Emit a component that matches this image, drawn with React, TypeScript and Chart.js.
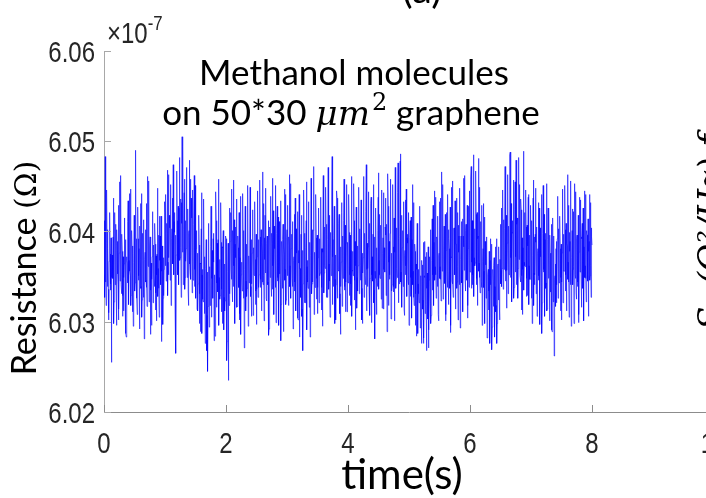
import React, { useEffect, useRef } from "react";
import { Chart, registerables } from "chart.js";

Chart.register(...registerables);

// Sampling of the recorded trace (s): three interleaved sample sets
const STEP_A_S = 0.02; // samplesA at t = 0, 0.02, ... 8.00
const STEP_B_S = 0.02; // samplesB at t = 0.01, 0.03, ... 7.99
const OFFSET_B_S = 0.01;
const STEP_C_S = 0.01; // samplesC at t = 0.005, 0.015, ... 7.995
const OFFSET_C_S = 0.005;

// Resistance values in units of 1e-7 Ω (axis multiplier shown as ×10^-7)
const samplesA = [
  6.0352, 6.0483, 6.0331, 6.0402, 6.0310, 6.0375, 6.0255, 6.0362, 6.0298, 6.0421, 6.0334, 6.0389, 6.0302, 6.0455, 6.0341, 6.0378, 6.0312, 6.0396, 6.0287, 6.0365, 6.0339, 6.0442, 6.0318, 6.0384, 6.0295,
  6.0371, 6.0490, 6.0326, 6.0392, 6.0348, 6.0431, 6.0305, 6.0368, 6.0281, 6.0402, 6.0338, 6.0461, 6.0322, 6.0379, 6.0296, 6.0414, 6.0352, 6.0386, 6.0301, 6.0448, 6.0337, 6.0395, 6.0278, 6.0372, 6.0329,
  6.0421, 6.0345, 6.0468, 6.0352, 6.0404, 6.0318, 6.0437, 6.0361, 6.0399, 6.0265, 6.0412, 6.0358, 6.0473, 6.0382, 6.0505, 6.0341, 6.0458, 6.0367, 6.0426, 6.0333, 6.0479, 6.0372, 6.0415, 6.0346, 6.0462,
  6.0338, 6.0401, 6.0312, 6.0385, 6.0289, 6.0443, 6.0325, 6.0371, 6.0276, 6.0352, 6.0245, 6.0394, 6.0318, 6.0427, 6.0331, 6.0366, 6.0284, 6.0412, 6.0347, 6.0458, 6.0325, 6.0388, 6.0298, 6.0356, 6.0312,
  6.0392, 6.0278, 6.0235, 6.0364, 6.0421, 6.0338, 6.0457, 6.0349, 6.0405, 6.0316, 6.0382, 6.0302, 6.0439, 6.0355, 6.0398, 6.0271, 6.0376, 6.0328, 6.0451, 6.0343, 6.0387, 6.0306, 6.0424, 6.0352, 6.0369,
  6.0297, 6.0445, 6.0338, 6.0394, 6.0312, 6.0466, 6.0351, 6.0418, 6.0326, 6.0378, 6.0285, 6.0405, 6.0342, 6.0459, 6.0331, 6.0386, 6.0299, 6.0428, 6.0355, 6.0397, 6.0279, 6.0371, 6.0336, 6.0447, 6.0319,
  6.0402, 6.0341, 6.0463, 6.0328, 6.0385, 6.0292, 6.0419, 6.0347, 6.0376, 6.0304, 6.0441, 6.0335, 6.0362, 6.0268, 6.0398, 6.0321, 6.0455, 6.0344, 6.0389, 6.0283, 6.0411, 6.0356, 6.0472, 6.0338, 6.0393,
  6.0309, 6.0426, 6.0351, 6.0381, 6.0295, 6.0448, 6.0362, 6.0408, 6.0327, 6.0467, 6.0345, 6.0386, 6.0483, 6.0339, 6.0415, 6.0302, 6.0437, 6.0358, 6.0392, 6.0286, 6.0421, 6.0348, 6.0375, 6.0311, 6.0452,
  6.0343, 6.0399, 6.0318, 6.0461, 6.0356, 6.0412, 6.0291, 6.0385, 6.0334, 6.0449, 6.0362, 6.0403, 6.0298, 6.0426, 6.0351, 6.0474, 6.0339, 6.0391, 6.0307, 6.0438, 6.0366, 6.0418, 6.0281, 6.0382, 6.0344,
  6.0465, 6.0352, 6.0407, 6.0315, 6.0443, 6.0361, 6.0396, 6.0289, 6.0428, 6.0347, 6.0458, 6.0334, 6.0383, 6.0301, 6.0417, 6.0359, 6.0476, 6.0342, 6.0486, 6.0366, 6.0401, 6.0313, 6.0435, 6.0349, 6.0387,
  6.0296, 6.0412, 6.0338, 6.0452, 6.0327, 6.0378, 6.0284, 6.0395, 6.0331, 6.0428, 6.0305, 6.0363, 6.0276, 6.0389, 6.0319, 6.0354, 6.0271, 6.0372, 6.0298, 6.0414, 6.0336, 6.0445, 6.0352, 6.0391, 6.0308,
  6.0433, 6.0347, 6.0466, 6.0325, 6.0392, 6.0301, 6.0421, 6.0356, 6.0381, 6.0288, 6.0449, 6.0342, 6.0404, 6.0319, 6.0437, 6.0361, 6.0395, 6.0293, 6.0411, 6.0338, 6.0459, 6.0346, 6.0377, 6.0304, 6.0428,
  6.0355, 6.0472, 6.0341, 6.0485, 6.0362, 6.0419, 6.0318, 6.0481, 6.0349, 6.0402, 6.0296, 6.0431, 6.0337, 6.0375, 6.0282, 6.0358, 6.0311, 6.0392, 6.0269, 6.0345, 6.0301, 6.0383, 6.0276, 6.0364, 6.0322,
  6.0408, 6.0339, 6.0446, 6.0358, 6.0421, 6.0315, 6.0463, 6.0352, 6.0488, 6.0367, 6.0412, 6.0326, 6.0455, 6.0343, 6.0396, 6.0482, 6.0351, 6.0424, 6.0308, 6.0489, 6.0362, 6.0405, 6.0329, 6.0441, 6.0347,
  6.0392, 6.0298, 6.0457, 6.0341, 6.0388, 6.0306, 6.0432, 6.0355, 6.0379, 6.0287, 6.0451, 6.0336, 6.0398, 6.0312, 6.0426, 6.0348, 6.0371, 6.0291, 6.0415, 6.0262, 6.0364, 6.0321, 6.0439, 6.0343, 6.0381,
  6.0302, 6.0447, 6.0356, 6.0402, 6.0318, 6.0463, 6.0344, 6.0389, 6.0295, 6.0425, 6.0361, 6.0453, 6.0332, 6.0386, 6.0299, 6.0438, 6.0352, 6.0409, 6.0315, 6.0445, 6.0348, 6.0396, 6.0306, 6.0441, 6.0362,
  6.0385,
];

const samplesB = [
  6.0398, 6.0344, 6.0387, 6.0336, 6.0371, 6.0342, 6.0349, 6.0394, 6.0357, 6.0368, 6.0402, 6.0341, 6.0376, 6.0358, 6.0391, 6.0329, 6.0364, 6.0347, 6.0372, 6.0411, 6.0368, 6.0351, 6.0389, 6.0337, 6.0366,
  6.0343, 6.0362, 6.0397, 6.0351, 6.0406, 6.0339, 6.0388, 6.0327, 6.0369, 6.0346, 6.0393, 6.0361, 6.0384, 6.0335, 6.0372, 6.0344, 6.0408, 6.0332, 6.0375, 6.0359, 6.0417, 6.0341, 6.0356, 6.0326, 6.0378,
  6.0372, 6.0409, 6.0366, 6.0418, 6.0357, 6.0392, 6.0364, 6.0411, 6.0342, 6.0378, 6.0352, 6.0426, 6.0371, 6.0432, 6.0388, 6.0402, 6.0349, 6.0414, 6.0361, 6.0398, 6.0354, 6.0437, 6.0369, 6.0403, 6.0358,
  6.0381, 6.0346, 6.0373, 6.0331, 6.0364, 6.0352, 6.0396, 6.0318, 6.0359, 6.0307, 6.0362, 6.0339, 6.0383, 6.0348, 6.0392, 6.0322, 6.0367, 6.0343, 6.0391, 6.0349, 6.0374, 6.0336, 6.0382, 6.0327, 6.0357,
  6.0331, 6.0356, 6.0318, 6.0389, 6.0347, 6.0401, 6.0362, 6.0386, 6.0341, 6.0379, 6.0338, 6.0371, 6.0352, 6.0412, 6.0334, 6.0358, 6.0345, 6.0397, 6.0366, 6.0384, 6.0339, 6.0376, 6.0348, 6.0406, 6.0334,
  6.0372, 6.0356, 6.0409, 6.0347, 6.0388, 6.0341, 6.0393, 6.0354, 6.0387, 6.0344, 6.0368, 6.0351, 6.0398, 6.0362, 6.0406, 6.0338, 6.0374, 6.0349, 6.0411, 6.0341, 6.0363, 6.0391, 6.0384, 6.0358, 6.0372,
  6.0356, 6.0394, 6.0362, 6.0381, 6.0339, 6.0368, 6.0344, 6.0403, 6.0328, 6.0379, 6.0359, 6.0397, 6.0314, 6.0352, 6.0345, 6.0382, 6.0361, 6.0408, 6.0337, 6.0373, 6.0342, 6.0401, 6.0363, 6.0386, 6.0348,
  6.0371, 6.0363, 6.0402, 6.0338, 6.0377, 6.0354, 6.0416, 6.0342, 6.0391, 6.0364, 6.0399, 6.0351, 6.0372, 6.0396, 6.0347, 6.0384, 6.0352, 6.0409, 6.0331, 6.0366, 6.0374, 6.0412, 6.0339, 6.0387, 6.0368,
  6.0388, 6.0352, 6.0379, 6.0357, 6.0404, 6.0346, 6.0362, 6.0349, 6.0393, 6.0367, 6.0386, 6.0337, 6.0371, 6.0364, 6.0412, 6.0358, 6.0383, 6.0345, 6.0376, 6.0352, 6.0397, 6.0335, 6.0348, 6.0359, 6.0401,
  6.0368, 6.0389, 6.0344, 6.0376, 6.0358, 6.0405, 6.0341, 6.0372, 6.0366, 6.0398, 6.0352, 6.0384, 6.0339, 6.0377, 6.0348, 6.0411, 6.0363, 6.0394, 6.0355, 6.0382, 6.0347, 6.0373, 6.0362, 6.0393, 6.0341,
  6.0364, 6.0349, 6.0391, 6.0356, 6.0372, 6.0331, 6.0358, 6.0342, 6.0384, 6.0339, 6.0368, 6.0324, 6.0351, 6.0335, 6.0377, 6.0303, 6.0346, 6.0328, 6.0362, 6.0352, 6.0388, 6.0361, 6.0378, 6.0339, 6.0373,
  6.0361, 6.0398, 6.0359, 6.0374, 6.0343, 6.0379, 6.0338, 6.0402, 6.0337, 6.0372, 6.0364, 6.0391, 6.0352, 6.0386, 6.0344, 6.0407, 6.0341, 6.0369, 6.0357, 6.0395, 6.0372, 6.0401, 6.0346, 6.0381, 6.0338,
  6.0403, 6.0366, 6.0412, 6.0371, 6.0394, 6.0348, 6.0392, 6.0365, 6.0411, 6.0338, 6.0367, 6.0356, 6.0389, 6.0331, 6.0346, 6.0334, 6.0368, 6.0324, 6.0341, 6.0362, 6.0339, 6.0318, 6.0347, 6.0331, 6.0369,
  6.0357, 6.0392, 6.0368, 6.0403, 6.0356, 6.0387, 6.0364, 6.0417, 6.0371, 6.0399, 6.0354, 6.0386, 6.0372, 6.0408, 6.0359, 6.0376, 6.0393, 6.0351, 6.0382, 6.0366, 6.0397, 6.0348, 6.0384, 6.0362, 6.0409,
  6.0346, 6.0373, 6.0354, 6.0397, 6.0342, 6.0376, 6.0351, 6.0404, 6.0336, 6.0382, 6.0358, 6.0391, 6.0343, 6.0374, 6.0359, 6.0396, 6.0332, 6.0368, 6.0339, 6.0347, 6.0381, 6.0392, 6.0367, 6.0398, 6.0349,
  6.0376, 6.0361, 6.0408, 6.0352, 6.0387, 6.0366, 6.0399, 6.0341, 6.0371, 6.0358, 6.0407, 6.0348, 6.0392, 6.0344, 6.0377, 6.0369, 6.0394, 6.0337, 6.0383, 6.0362, 6.0401, 6.0345, 6.0378, 6.0351, 6.0404,
];

const samplesC = [
  6.0412, 6.0327, 6.0395, 6.0318, 6.0446, 6.0339, 6.0381, 6.0302, 6.0367, 6.0421, 6.0335, 6.0393, 6.0289, 6.0374, 6.0348, 6.0437, 6.0322, 6.0386, 6.0341, 6.0408, 6.0296, 6.0379, 6.0353, 6.0429, 6.0314, 6.0388, 6.0345, 6.0462, 6.0331, 6.0397, 6.0306, 6.0372, 6.0349, 6.0415, 6.0325, 6.0391, 6.0283, 6.0368, 6.0343, 6.0434, 6.0319, 6.0383, 6.0356, 6.0447, 6.0329, 6.0401, 6.0311, 6.0376, 6.0342, 6.0418,
  6.0334, 6.0453, 6.0351, 6.0392, 6.0308, 6.0427, 6.0346, 6.0381, 6.0292, 6.0369, 6.0337, 6.0442, 6.0324, 6.0398, 6.0355, 6.0413, 6.0301, 6.0377, 6.0344, 6.0431, 6.0317, 6.0389, 6.0362, 6.0456, 6.0338, 6.0394, 6.0286, 6.0365, 6.0347, 6.0422, 6.0321, 6.0385, 6.0339, 6.0409, 6.0313, 6.0373, 6.0352, 6.0438, 6.0328, 6.0396, 6.0305, 6.0368, 6.0343, 6.0417, 6.0336, 6.0384, 6.0297, 6.0371, 6.0358, 6.0433,
  6.0362, 6.0441, 6.0357, 6.0398, 6.0329, 6.0463, 6.0371, 6.0417, 6.0346, 6.0452, 6.0338, 6.0403, 6.0366, 6.0474, 6.0352, 6.0421, 6.0312, 6.0396, 6.0374, 6.0467, 6.0359, 6.0428, 6.0341, 6.0482, 6.0368, 6.0436, 6.0327, 6.0409, 6.0377, 6.0494, 6.0355, 6.0443, 6.0336, 6.0412, 6.0381, 6.0471, 6.0349, 6.0425, 6.0318, 6.0401, 6.0364, 6.0458, 6.0347, 6.0419, 6.0332, 6.0446, 6.0372, 6.0408, 6.0339, 6.0451,
  6.0326, 6.0397, 6.0314, 6.0376, 6.0342, 6.0418, 6.0298, 6.0365, 6.0331, 6.0403, 6.0287, 6.0358, 6.0322, 6.0436, 6.0309, 6.0372, 6.0338, 6.0391, 6.0268, 6.0355, 6.0317, 6.0409, 6.0294, 6.0361, 6.0334, 6.0428, 6.0305, 6.0379, 6.0326, 6.0398, 6.0279, 6.0352, 6.0341, 6.0444, 6.0316, 6.0387, 6.0333, 6.0414, 6.0296, 6.0369, 6.0329, 6.0432, 6.0311, 6.0383, 6.0345, 6.0401, 6.0291, 6.0364, 6.0323, 6.0395,
  6.0304, 6.0257, 6.0318, 6.0387, 6.0345, 6.0426, 6.0331, 6.0392, 6.0358, 6.0447, 6.0322, 6.0384, 6.0339, 6.0413, 6.0298, 6.0371, 6.0352, 6.0436, 6.0317, 6.0395, 6.0343, 6.0421, 6.0309, 6.0378, 6.0286, 6.0366, 6.0334, 6.0442, 6.0326, 6.0401, 6.0348, 6.0428, 6.0312, 6.0386, 6.0337, 6.0417, 6.0295, 6.0373, 6.0356, 6.0449, 6.0328, 6.0391, 6.0342, 6.0411, 6.0307, 6.0382, 6.0351, 6.0433, 6.0319, 6.0397,
  6.0336, 6.0418, 6.0327, 6.0391, 6.0352, 6.0457, 6.0338, 6.0402, 6.0315, 6.0376, 6.0344, 6.0431, 6.0301, 6.0369, 6.0357, 6.0448, 6.0323, 6.0395, 6.0341, 6.0412, 6.0292, 6.0374, 6.0349, 6.0439, 6.0328, 6.0387, 6.0336, 6.0423, 6.0308, 6.0381, 6.0362, 6.0451, 6.0331, 6.0398, 6.0345, 6.0416, 6.0296, 6.0368, 6.0353, 6.0434, 6.0319, 6.0389, 6.0337, 6.0408, 6.0289, 6.0375, 6.0346, 6.0441, 6.0324, 6.0393,
  6.0351, 6.0429, 6.0318, 6.0384, 6.0339, 6.0453, 6.0326, 6.0397, 6.0348, 6.0411, 6.0297, 6.0372, 6.0334, 6.0437, 6.0312, 6.0386, 6.0345, 6.0422, 6.0302, 6.0365, 6.0283, 6.0359, 6.0327, 6.0418, 6.0306, 6.0379, 6.0342, 6.0446, 6.0321, 6.0393, 6.0355, 6.0412, 6.0291, 6.0368, 6.0337, 6.0433, 6.0316, 6.0388, 6.0349, 6.0459, 6.0331, 6.0402, 6.0344, 6.0425, 6.0308, 6.0377, 6.0358, 6.0441, 6.0325, 6.0396,
  6.0338, 6.0414, 6.0321, 6.0392, 6.0354, 6.0438, 6.0313, 6.0381, 6.0346, 6.0462, 6.0332, 6.0405, 6.0359, 6.0449, 6.0327, 6.0397, 6.0343, 6.0471, 6.0336, 6.0418, 6.0305, 6.0384, 6.0351, 6.0436, 6.0319, 6.0391, 6.0347, 6.0428, 6.0298, 6.0374, 6.0341, 6.0445, 6.0326, 6.0402, 6.0356, 6.0419, 6.0309, 6.0383, 6.0339, 6.0432, 6.0317, 6.0395, 6.0352, 6.0458, 6.0335, 6.0407, 6.0344, 6.0424, 6.0311, 6.0388,
  6.0357, 6.0441, 6.0329, 6.0396, 6.0342, 6.0417, 6.0306, 6.0378, 6.0351, 6.0453, 6.0324, 6.0389, 6.0338, 6.0427, 6.0315, 6.0384, 6.0362, 6.0448, 6.0331, 6.0403, 6.0346, 6.0435, 6.0302, 6.0376, 6.0354, 6.0461, 6.0327, 6.0398, 6.0341, 6.0422, 6.0312, 6.0387, 6.0359, 6.0444, 6.0333, 6.0409, 6.0348, 6.0431, 6.0299, 6.0372, 6.0345, 6.0452, 6.0321, 6.0394, 6.0356, 6.0426, 6.0308, 6.0381, 6.0339, 6.0438,
  6.0336, 6.0419, 6.0348, 6.0401, 6.0325, 6.0446, 6.0342, 6.0393, 6.0314, 6.0382, 6.0355, 6.0437, 6.0329, 6.0408, 6.0346, 6.0464, 6.0318, 6.0389, 6.0352, 6.0425, 6.0303, 6.0376, 6.0341, 6.0452, 6.0333, 6.0415, 6.0358, 6.0471, 6.0337, 6.0404, 6.0349, 6.0443, 6.0321, 6.0392, 6.0361, 6.0478, 6.0344, 6.0418, 6.0316, 6.0386, 6.0339, 6.0433, 6.0307, 6.0379, 6.0352, 6.0447, 6.0328, 6.0397, 6.0345, 6.0421,
  6.0312, 6.0393, 6.0328, 6.0416, 6.0304, 6.0377, 6.0341, 6.0432, 6.0318, 6.0386, 6.0296, 6.0364, 6.0332, 6.0409, 6.0287, 6.0358, 6.0321, 6.0397, 6.0293, 6.0351, 6.0276, 6.0345, 6.0314, 6.0388, 6.0282, 6.0349, 6.0309, 6.0372, 6.0268, 6.0337, 6.0305, 6.0383, 6.0291, 6.0356, 6.0322, 6.0402, 6.0307, 6.0368, 6.0335, 6.0429, 6.0318, 6.0391, 6.0346, 6.0438, 6.0326, 6.0394, 6.0339, 6.0417, 6.0301, 6.0376,
  6.0348, 6.0437, 6.0323, 6.0398, 6.0356, 6.0452, 6.0331, 6.0406, 6.0342, 6.0419, 6.0308, 6.0381, 6.0353, 6.0441, 6.0319, 6.0392, 6.0338, 6.0427, 6.0296, 6.0371, 6.0345, 6.0456, 6.0327, 6.0403, 6.0359, 6.0434, 6.0314, 6.0386, 6.0337, 6.0421, 6.0302, 6.0377, 6.0351, 6.0448, 6.0325, 6.0395, 6.0343, 6.0414, 6.0311, 6.0383, 6.0357, 6.0462, 6.0334, 6.0408, 6.0346, 6.0429, 6.0318, 6.0391, 6.0339, 6.0445,
  6.0361, 6.0458, 6.0337, 6.0412, 6.0352, 6.0476, 6.0328, 6.0403, 6.0365, 6.0467, 6.0341, 6.0421, 6.0319, 6.0395, 6.0356, 6.0449, 6.0332, 6.0408, 6.0345, 6.0429, 6.0306, 6.0381, 6.0338, 6.0416, 6.0298, 6.0363, 6.0326, 6.0394, 6.0287, 6.0352, 6.0313, 6.0378, 6.0276, 6.0341, 6.0305, 6.0386, 6.0294, 6.0358, 6.0317, 6.0371, 6.0283, 6.0349, 6.0311, 6.0392, 6.0298, 6.0362, 6.0324, 6.0383, 6.0302, 6.0369,
  6.0342, 6.0426, 6.0359, 6.0441, 6.0336, 6.0413, 6.0368, 6.0472, 6.0345, 6.0418, 6.0357, 6.0463, 6.0331, 6.0406, 6.0372, 6.0485, 6.0349, 6.0431, 6.0322, 6.0398, 6.0364, 6.0457, 6.0338, 6.0424, 6.0355, 6.0479, 6.0341, 6.0415, 6.0326, 6.0402, 6.0369, 6.0452, 6.0344, 6.0436, 6.0313, 6.0393, 6.0358, 6.0468, 6.0335, 6.0421, 6.0361, 6.0446, 6.0328, 6.0407, 6.0352, 6.0438, 6.0319, 6.0396, 6.0347, 6.0429,
  6.0326, 6.0412, 6.0343, 6.0437, 6.0318, 6.0394, 6.0352, 6.0448, 6.0331, 6.0405, 6.0309, 6.0381, 6.0346, 6.0426, 6.0297, 6.0372, 6.0339, 6.0441, 6.0321, 6.0398, 6.0355, 6.0419, 6.0306, 6.0384, 6.0337, 6.0453, 6.0314, 6.0391, 6.0348, 6.0424, 6.0301, 6.0376, 6.0333, 6.0408, 6.0289, 6.0365, 6.0322, 6.0395, 6.0278, 6.0351, 6.0317, 6.0389, 6.0341, 6.0432, 6.0326, 6.0403, 6.0354, 6.0417, 6.0312, 6.0386,
  6.0344, 6.0438, 6.0321, 6.0397, 6.0356, 6.0451, 6.0334, 6.0409, 6.0312, 6.0384, 6.0347, 6.0429, 6.0305, 6.0378, 6.0358, 6.0456, 6.0329, 6.0401, 6.0341, 6.0422, 6.0298, 6.0373, 6.0352, 6.0444, 6.0325, 6.0396, 6.0339, 6.0418, 6.0308, 6.0387, 6.0355, 6.0435, 6.0316, 6.0392, 6.0343, 6.0426, 6.0301, 6.0379, 6.0349, 6.0441, 6.0322, 6.0398, 6.0357, 6.0414, 6.0311, 6.0389, 6.0346, 6.0432, 6.0327, 6.0394,
];

const xTickValues = [0, 2, 4, 6, 8, 10];
const xTickLabels = ["0", "2", "4", "6", "8", "10"];
const yTickValues = [6.02, 6.03, 6.04, 6.05, 6.06];
const yTickLabels = ["6.02", "6.03", "6.04", "6.05", "6.06"];

const X_MIN = 0;
const X_MAX = 10;
const Y_MIN = 6.02;
const Y_MAX = 6.06;

const xTitle = "time(s)";
const yTitleText = "Resistance ";
const yTitleUnit = "(Ω)";
const noteLine1 = "Methanol molecules";
const noteLine2a = "on 50*30 ";
const noteLine2Math = "μm";
const noteLine2Sup = "2";
const noteLine2b = " graphene";
const exponentBase = "×10";
const exponentPower = "-7";
const panelLabel = "(a)";
const neighbourLabel = "S  (Ω²/Hz)·f";

const TICK_FONT = "'Liberation Sans', Arial, sans-serif";
const TICK_SQUEEZE = 0.8;
const TEXT_FONT = "Lato, 'Open Sans', sans-serif";
const MATH_FONT = "'DejaVu Serif', 'Liberation Serif', serif";

const CANVAS_W = 740;
const CANVAS_H = 498;

function squeezedText(
  ctx: CanvasRenderingContext2D,
  text: string,
  x: number,
  y: number,
  align: "left" | "center" | "right"
) {
  ctx.save();
  ctx.translate(x, y);
  ctx.scale(TICK_SQUEEZE, 1);
  ctx.textAlign = align;
  ctx.fillText(text, 0, 0);
  ctx.restore();
}

const annotationPlugin = {
  id: "annotations",
  afterDraw(chart: any) {
    const ctx: CanvasRenderingContext2D = chart.ctx;
    const area = chart.chartArea;
    const xs = chart.scales.x;
    const ys = chart.scales.y;
    ctx.save();

    // inward tick marks (MATLAB style)
    ctx.lineWidth = 1;
    ctx.strokeStyle = "#8c8c8c";
    xs.ticks.forEach((t: any) => {
      const px = Math.round(xs.getPixelForValue(t.value)) + 0.5;
      ctx.beginPath();
      ctx.moveTo(px, area.bottom);
      ctx.lineTo(px, area.bottom - 7);
      ctx.stroke();
    });
    ctx.strokeStyle = "#a8a8a8";
    ys.ticks.forEach((t: any) => {
      const py = Math.round(ys.getPixelForValue(t.value)) + 0.5;
      ctx.beginPath();
      ctx.moveTo(area.left, py);
      ctx.lineTo(area.left + 7, py);
      ctx.stroke();
    });

    // tick labels (condensed Helvetica-like)
    ctx.fillStyle = "#262626";
    ctx.textBaseline = "alphabetic";
    ctx.font = `30px ${TICK_FONT}`;
    xs.ticks.forEach((t: any) => {
      const idx = xTickValues.indexOf(t.value);
      if (idx < 0) return;
      squeezedText(ctx, xTickLabels[idx], xs.getPixelForValue(t.value), area.bottom + 41, "center");
    });
    ys.ticks.forEach((t: any) => {
      const idx = yTickValues.findIndex((v) => Math.abs(v - t.value) < 1e-9);
      if (idx < 0) return;
      squeezedText(ctx, yTickLabels[idx], area.left - 9, ys.getPixelForValue(t.value) + 11, "right");
    });

    // exponent ×10^-7
    ctx.font = `30px ${TICK_FONT}`;
    const ex = area.left + 3;
    squeezedText(ctx, exponentBase, ex, 43, "left");
    const wb = ctx.measureText(exponentBase).width * TICK_SQUEEZE;
    ctx.font = `21px ${TICK_FONT}`;
    squeezedText(ctx, exponentPower, ex + wb, 30, "left");

    // annotation text
    ctx.fillStyle = "#000";
    ctx.font = `35px ${TEXT_FONT}`;
    ctx.textAlign = "center";
    ctx.fillText(noteLine1, 354, 85);

    ctx.textAlign = "left";
    ctx.font = `35px ${TEXT_FONT}`;
    const wa = ctx.measureText(noteLine2a).width;
    const wbb = ctx.measureText(noteLine2b).width;
    ctx.font = `italic 34px ${MATH_FONT}`;
    const wm = ctx.measureText(noteLine2Math).width;
    ctx.font = `24px ${MATH_FONT}`;
    const ws = ctx.measureText(noteLine2Sup).width;
    const total = wa + wm + ws + 2 + wbb;
    let cx = 351 - total / 2;
    const by = 125;
    ctx.font = `35px ${TEXT_FONT}`;
    ctx.fillText(noteLine2a, cx, by);
    cx += wa;
    ctx.font = `italic 34px ${MATH_FONT}`;
    ctx.fillText(noteLine2Math, cx, by);
    cx += wm + 2;
    ctx.font = `24px ${MATH_FONT}`;
    ctx.fillText(noteLine2Sup, cx, by - 15);
    cx += ws;
    ctx.font = `35px ${TEXT_FONT}`;
    ctx.fillText(noteLine2b, cx, by);

    // x title
    ctx.textAlign = "center";
    ctx.font = `42px ${TEXT_FONT}`;
    ctx.fillText(xTitle, 402, 489);

    // y title (rotated)
    ctx.save();
    ctx.translate(36, 268);
    ctx.rotate(-Math.PI / 2);
    ctx.font = `34px ${TEXT_FONT}`;
    const w1 = ctx.measureText(yTitleText).width;
    ctx.font = `30px ${MATH_FONT}`;
    const w2 = ctx.measureText(yTitleUnit).width;
    const start = -(w1 + w2) / 2;
    ctx.textAlign = "left";
    ctx.font = `34px ${TEXT_FONT}`;
    ctx.fillText(yTitleText, start, 0);
    ctx.font = `30px ${MATH_FONT}`;
    ctx.fillText(yTitleUnit, start + w1, 0);
    ctx.restore();

    // panel label, mostly cut off at the top
    ctx.textAlign = "center";
    ctx.font = `40px ${TEXT_FONT}`;
    ctx.fillText(panelLabel, 422, 3);

    // neighbouring panel's axis title, cut off at the right edge
    ctx.save();
    ctx.translate(722, 232);
    ctx.rotate(-Math.PI / 2);
    ctx.font = `italic 34px ${MATH_FONT}`;
    ctx.fillText(neighbourLabel, 0, 0);
    ctx.restore();

    ctx.restore();
  },
};

export default function App() {
  const canvasRef = useRef<HTMLCanvasElement | null>(null);

  useEffect(() => {
    const canvas = canvasRef.current;
    if (!canvas) return;
    const points: { x: number; y: number }[] = [];
    samplesA.forEach((v, i) => points.push({ x: i * STEP_A_S, y: v }));
    samplesB.forEach((v, i) => points.push({ x: i * STEP_B_S + OFFSET_B_S, y: v }));
    samplesC.forEach((v, i) => points.push({ x: i * STEP_C_S + OFFSET_C_S, y: v }));
    points.sort((a, b) => a.x - b.x);

    const chart = new Chart(canvas, {
      type: "line",
      data: {
        datasets: [
          {
            data: points,
            borderColor: "#0000ff",
            borderWidth: 0.6,
            pointRadius: 0,
            tension: 0,
            fill: false,
          },
        ],
      },
      options: {
        animation: false,
        responsive: false,
        maintainAspectRatio: false,
        events: [],
        layout: { padding: { left: 0, top: 51, right: 26, bottom: 0 } },
        plugins: {
          legend: { display: false },
          tooltip: { enabled: false },
          title: { display: false },
        },
        scales: {
          x: {
            type: "linear",
            min: X_MIN,
            max: X_MAX,
            afterBuildTicks: (s: any) => {
              s.ticks = xTickValues.map((v) => ({ value: v }));
            },
            afterFit: (s: any) => {
              s.height = 86;
            },
            grid: { display: true, drawOnChartArea: false, drawTicks: false },
            border: { display: true, color: "#8c8c8c", width: 1 },
            ticks: { display: false },
          },
          y: {
            type: "linear",
            min: Y_MIN,
            max: Y_MAX,
            afterBuildTicks: (s: any) => {
              s.ticks = yTickValues.map((v) => ({ value: v }));
            },
            afterFit: (s: any) => {
              s.width = 104;
            },
            grid: { display: true, drawOnChartArea: false, drawTicks: false },
            border: { display: true, color: "#a8a8a8", width: 1 },
            ticks: { display: false },
          },
        },
      },
      plugins: [annotationPlugin],
    });
    return () => chart.destroy();
  }, []);

  return (
    <div
      style={{
        position: "fixed",
        left: 0,
        top: 0,
        width: 706,
        height: 498,
        overflow: "hidden",
        background: "#fff",
      }}
    >
      <canvas
        ref={canvasRef}
        width={CANVAS_W}
        height={CANVAS_H}
        style={{ width: CANVAS_W, height: CANVAS_H, display: "block" }}
      />
    </div>
  );
}
